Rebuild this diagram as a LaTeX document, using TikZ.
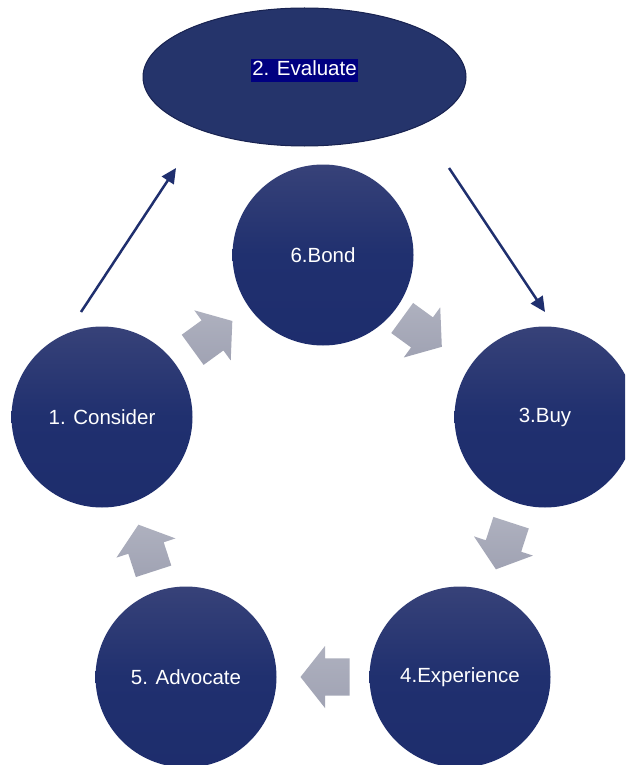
\documentclass[tikz,border=0pt]{standalone}
\usepackage{fontspec}
\setmainfont{Liberation Sans}
\usetikzlibrary{shapes.geometric,calc,arrows.meta}
\definecolor{ellfill}{RGB}{37,52,107}
\definecolor{elledge}{RGB}{24,34,80}
\definecolor{hl}{RGB}{0,0,128}
\definecolor{linecol}{RGB}{31,47,110}
\pgfdeclareverticalshading{circshade}{100bp}{
  rgb(0bp)=(0.106,0.165,0.416);
  rgb(50bp)=(0.125,0.188,0.435);
  rgb(100bp)=(0.31,0.33,0.51)}
\pgfdeclareverticalshading{arrshade}{100bp}{
  rgb(0bp)=(0.60,0.61,0.68);
  rgb(100bp)=(0.71,0.72,0.77)}
\newcommand{\blockarr}[5]{%
  \path[shading=arrshade] ($(#1,#2)+(#3:#4/2)$)
    -- ($(#1,#2)+(#3+90:#5/2)$)
    -- ($(#1,#2)+(#3+90:0.3*#5)$)
    -- ($(#1,#2)+(#3:-#4/2)+(#3+90:0.3*#5)$)
    -- ($(#1,#2)+(#3:-#4/2)+(#3-90:0.3*#5)$)
    -- ($(#1,#2)+(#3-90:0.3*#5)$)
    -- ($(#1,#2)+(#3-90:#5/2)$) -- cycle;}
\begin{document}
\begin{tikzpicture}[x=1pt,y=-1pt,
  stage/.style={circle, minimum size=181pt, inner sep=0pt, text=white, font=\fontsize{20.5}{24}\selectfont,
    path picture={\shade[shading=circshade] ([shift={(-2pt,-2pt)}]path picture bounding box.south west) rectangle ([shift={(2pt,2pt)}]path picture bounding box.north east);}},
  topell/.style={ellipse, minimum width=323pt, minimum height=138pt, inner sep=0pt, fill=ellfill, draw=elledge, line width=1pt},
  evaltxt/.style={text=white, inner sep=0pt, font=\fontsize{20.5}{24}\selectfont},
  flowline/.style={draw=linecol, line width=2.5pt, -{Triangle[length=15pt,width=14pt]}}]
\useasboundingbox (0,0) rectangle (625,765);
\clip (0,0) rectangle (625,765);
\fill[white] (0,0) rectangle (625,765);

\node[topell] (eval) at (304.5,77) {};
\node[evaltxt] (evaltext) at (304.5,70.5) {\fboxsep=1.5pt\colorbox{hl}{\rule[-4.5pt]{0pt}{18pt}2. Evaluate}};

\node[stage] (bond) at (323,255) {6.Bond};
\node[stage] (consider) at (102,417) {1. Consider};
\node[stage] (buy) at (545,417) {3.Buy};
\node[stage] (exper) at (460,677) {4.Experience};
\node[stage] (advoc) at (186,677) {5. Advocate};

\coordinate (l1s) at (81,312);
\coordinate (l1e) at (176,168);
\coordinate (l2s) at (449,168);
\coordinate (l2e) at (545,312);
\draw[flowline] (l1s) -- (l1e);
\draw[flowline] (l2s) -- (l2e);

\blockarr{212.5}{335.4}{-36}{49}{62}
\blockarr{422}{332.4}{36}{49}{62}
\blockarr{503.5}{546}{108}{49}{62}
\blockarr{325}{677}{180}{49}{62}
\blockarr{146}{548}{-108}{49}{62}
\end{tikzpicture}
\end{document}
